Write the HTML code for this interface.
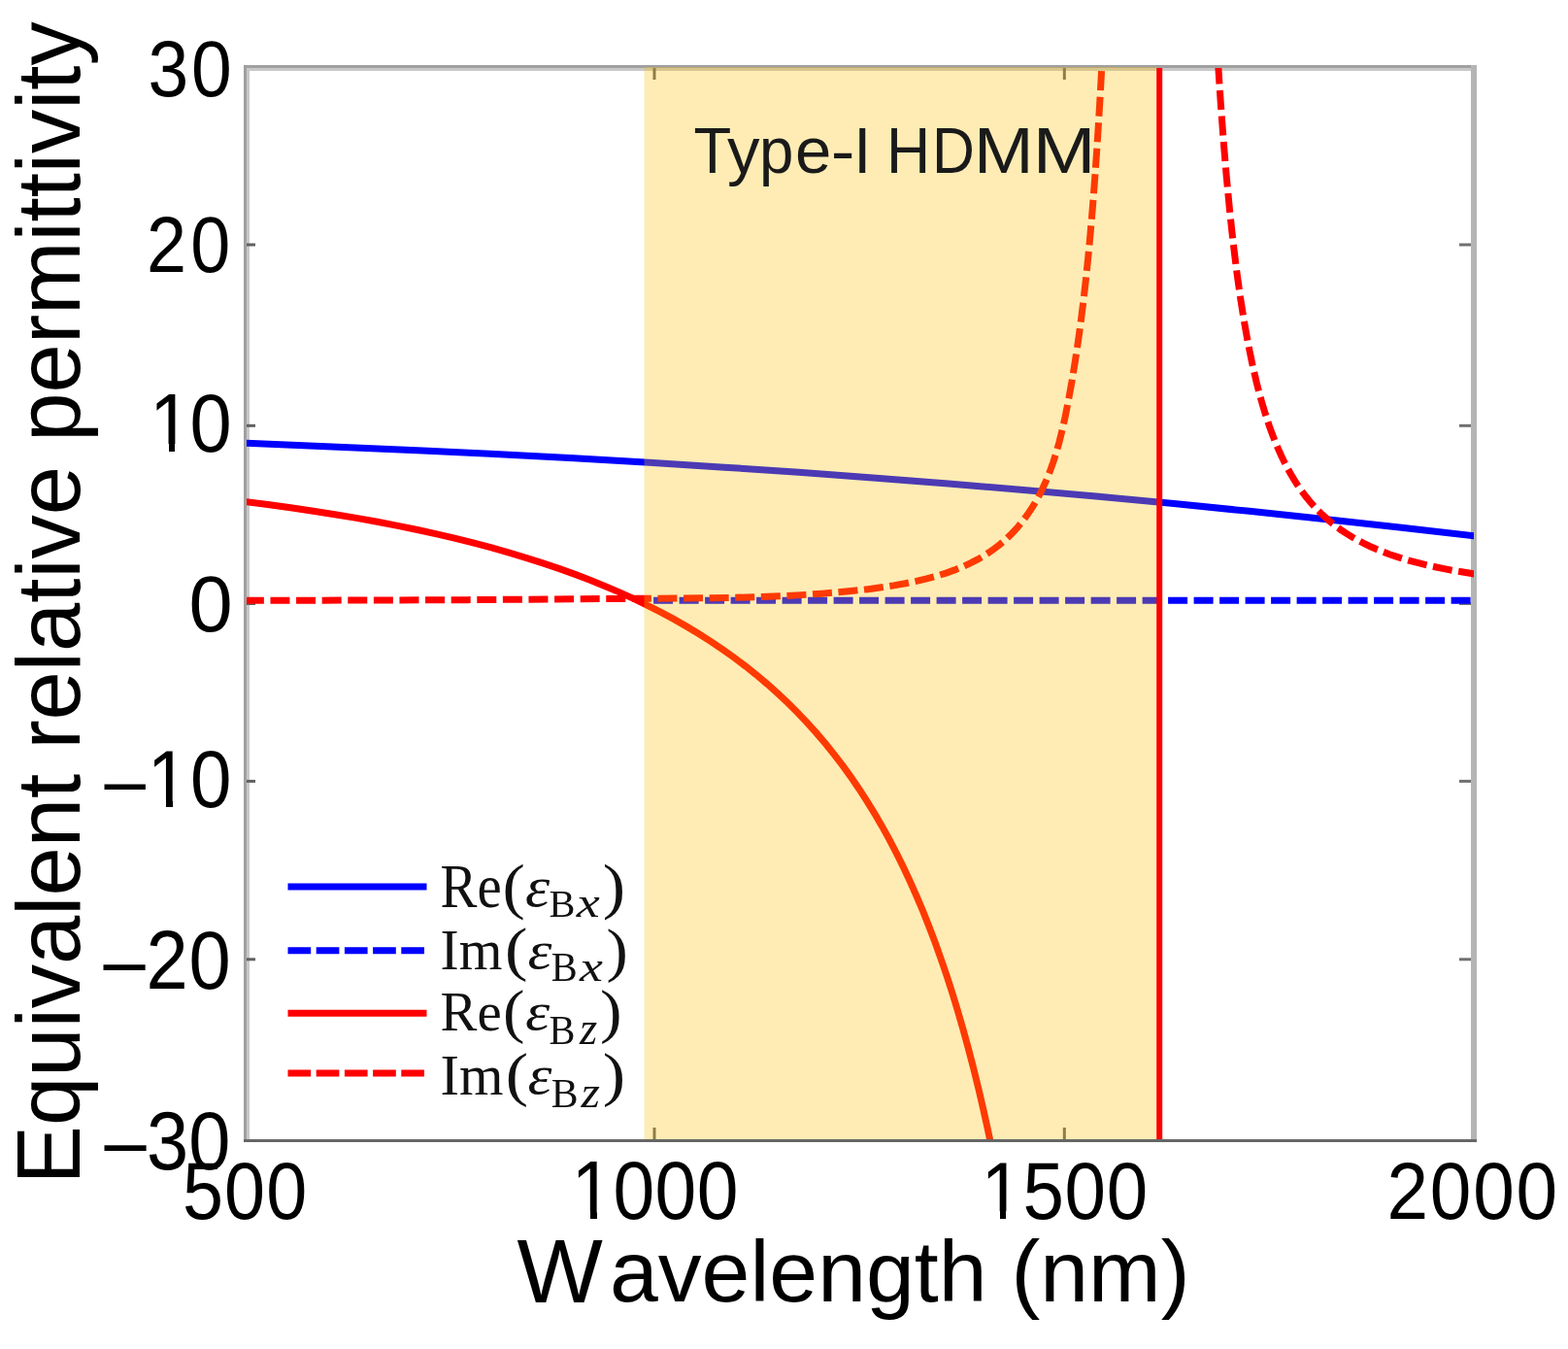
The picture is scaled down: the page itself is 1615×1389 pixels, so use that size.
<!DOCTYPE html>
<html><head><meta charset="utf-8"><style>
html,body{margin:0;padding:0;background:#fff;}
body{width:1615px;height:1389px;overflow:hidden;}
svg{display:block;}
.tk,.al,.hd{font-family:"Liberation Sans",Arial,sans-serif;fill:#000;}
.lg{font-family:"Liberation Serif","Times New Roman",serif;fill:#111;}
.hd{fill:#1a1a1a;}
</style></head><body>
<svg width="1615" height="1389" viewBox="0 0 1615 1389">
<rect width="1615" height="1389" fill="#fff"/>
<!-- axes box -->
<rect x="251" y="67" width="3" height="1109" fill="#a0a0a0"/>
<rect x="254" y="70" width="3" height="1103" fill="#c8c8c8"/>
<rect x="251" y="67" width="1270" height="3" fill="#a0a0a0"/>
<rect x="254" y="70" width="1261" height="3" fill="#c8c8c8"/>
<rect x="1515" y="67" width="6" height="1109" fill="#b4b4b4"/>
<rect x="251" y="1173" width="1270" height="3" fill="#666"/>
<rect x="254" y="250.5" width="9" height="3" fill="#606060"/><rect x="1503" y="250.5" width="12" height="3" fill="#707070"/><rect x="254" y="436.8" width="9" height="3" fill="#606060"/><rect x="1503" y="436.8" width="12" height="3" fill="#707070"/><rect x="254" y="620" width="9" height="3" fill="#606060"/><rect x="1503" y="620" width="12" height="3" fill="#707070"/><rect x="254" y="802.9" width="9" height="3" fill="#606060"/><rect x="1503" y="802.9" width="12" height="3" fill="#707070"/><rect x="254" y="986.3" width="9" height="3" fill="#606060"/><rect x="1503" y="986.3" width="12" height="3" fill="#707070"/><rect x="672.5" y="1161" width="3" height="12" fill="#606060"/><rect x="672.5" y="70" width="3" height="12" fill="#606060"/><rect x="1094.8" y="1161" width="3" height="12" fill="#606060"/><rect x="1094.8" y="70" width="3" height="12" fill="#606060"/>
<defs><clipPath id="pc"><rect x="254" y="70" width="1264" height="1103"/></clipPath></defs>
<g fill="none" stroke-width="7" clip-path="url(#pc)">
<line x1="663" y1="618.3" x2="1518" y2="618.3" stroke="#0000ff" stroke-dasharray="20 6.5" stroke-dashoffset="16.4"/>
<path d="M251.7,456.21 L353.9,460.38 L435.4,463.97 L514.37,467.77 L591.23,471.83 L668.93,476.3 L746.21,481.14 L822.65,486.32 L899.09,491.9 L976.79,497.97 L1054.07,504.42 L1131.77,511.32 L1209.05,518.6 L1286.76,526.33 L1364.04,534.44 L1441.32,542.96 L1518.6,551.89" stroke="#0000ff"/>
<path d="M251.7,516.54 L275.77,519.58 L299.42,522.79 L322.65,526.18 L345.03,529.7 L366.99,533.39 L388.53,537.27 L409.64,541.34 L429.91,545.51 L449.76,549.87 L469.18,554.41 L488.19,559.15 L506.35,563.97 L524.51,569.09 L541.82,574.29 L559.13,579.8 L575.6,585.38 L591.65,591.13 L607.7,597.24 L622.9,603.38 L638.1,609.89 L652.46,616.4 L666.82,623.29 L680.76,630.38 L694.27,637.66 L707.36,645.13 L720.03,652.77 L732.28,660.57 L744.52,668.83 L756.35,677.26 L767.75,685.85 L779.15,694.94 L790.13,704.2 L800.69,713.6 L811.25,723.55 L821.38,733.64 L831.1,743.86 L840.81,754.66 L850.1,765.58 L858.97,776.57 L867.84,788.18 L876.28,799.86 L884.73,812.18 L892.75,824.55 L900.78,837.6 L908.38,850.65 L915.98,864.43 L923.16,878.16 L930.34,892.65 L937.09,907.03 L943.85,922.21 L950.61,938.23 L956.94,954.09 L963.28,970.83 L969.19,987.31 L975.1,1004.68 L981.01,1023.03 L986.5,1041 L991.99,1059.95 L997.48,1079.97 L1002.55,1099.47 L1007.62,1120.03 L1012.68,1141.73 L1017.33,1162.72 L1021.98,1184.84" stroke="#ff0000"/>
<path d="M251.87,618.3 L378.98,618.04 L481.6,617.63 L726.97,615.79 L754.43,615.37 L779.77,614.69 L805.12,613.67 L829.2,612.37 L846.95,611.17 L863.43,609.83 L879.07,608.34 L893.87,606.67 L907.82,604.83 L920.52,602.88 L932.37,600.77 L943.8,598.42 L954.39,595.91 L964.57,593.14 L974.33,590.09 L983.26,586.91 L991.77,583.45 L999.87,579.72 L1007.56,575.7 L1014.84,571.39 L1022.14,566.51 L1029.03,561.29 L1035.52,555.76 L1042.03,549.49 L1047.7,543.36 L1053.38,536.48 L1058.63,529.35 L1063.88,521.36 L1068.67,513.14 L1073,504.83 L1077.26,495.59 L1081.03,486.36 L1084.71,476.15 L1087.9,466.13 L1091,455.1 L1094.04,442.93 L1097.04,429.46 L1100.42,412.5 L1103.88,393.34 L1107.04,374.12 L1110.3,352.52 L1113.21,331.34 L1115.73,311.24 L1118.26,289.09 L1120.79,264.62 L1122.9,242.2 L1125.44,212.55 L1127.55,185.24 L1129.66,155.26 L1131.35,129.1 L1133.46,93.36 L1135.15,62.04" stroke="#ff0000" stroke-dasharray="20 6.6"/>
<path d="M1254.66,66.44 L1257.2,104.91 L1260.15,144.87 L1263.11,180.29 L1266.49,216.05 L1269.87,247.54 L1273.67,278.68 L1277.47,305.98 L1281.27,330.05 L1285.49,353.6 L1289.71,374.32 L1294.36,394.35 L1296.89,404.22 L1299.43,413.44 L1301.96,422.06 L1304.92,431.42 L1307.45,438.91 L1310.41,447.07 L1313.36,454.66 L1316.74,462.72 L1319.7,469.28 L1323.08,476.26 L1326.45,482.74 L1329.83,488.78 L1333.21,494.4 L1337.01,500.28 L1340.81,505.74 L1344.61,510.81 L1348.84,516.04 L1353.06,520.88 L1357.28,525.38 L1361.93,529.95 L1366.57,534.18 L1371.64,538.45 L1376.71,542.38 L1381.77,546.02 L1387.26,549.66 L1392.75,553.02 L1398.67,556.35 L1404.58,559.43 L1410.91,562.47 L1417.25,565.26 L1424,568.01 L1431.18,570.69 L1438.36,573.15 L1445.96,575.55 L1453.99,577.86 L1462.01,579.99 L1470.46,582.04 L1479.33,584.01 L1488.62,585.91 L1498.33,587.71 L1518.6,591.01" stroke="#ff0000" stroke-dasharray="20 6.6"/>
</g>
<!-- band overlay -->
<rect x="663.5" y="69" width="528" height="1104" fill="rgb(252,192,8)" fill-opacity="0.3"/>
<rect x="1191.2" y="70" width="6" height="1103" fill="#ff0000"/>
<text class="hd" y="177.9" font-size="67.5"><tspan x="714.52" textLength="38.74" lengthAdjust="spacingAndGlyphs">T</tspan><tspan x="749.10" textLength="33.44" lengthAdjust="spacingAndGlyphs">y</tspan><tspan x="782.03" textLength="35.37" lengthAdjust="spacingAndGlyphs">p</tspan><tspan x="818.92" textLength="37.31" lengthAdjust="spacingAndGlyphs">e</tspan><tspan x="855.80" textLength="24.73" lengthAdjust="spacingAndGlyphs">-</tspan><tspan x="879.36" textLength="17.96" lengthAdjust="spacingAndGlyphs">I</tspan><tspan> </tspan><tspan x="912.94" textLength="45.19" lengthAdjust="spacingAndGlyphs">H</tspan><tspan x="960.00" textLength="43.88" lengthAdjust="spacingAndGlyphs">D</tspan><tspan x="1003.13" textLength="61.61" lengthAdjust="spacingAndGlyphs">M</tspan><tspan x="1063.79" textLength="64.73" lengthAdjust="spacingAndGlyphs">M</tspan></text>

<line x1="296.5" y1="913" x2="439.5" y2="913" stroke="#0000ff" stroke-width="7"/>
<line x1="296.5" y1="978.7" x2="439.5" y2="978.7" stroke="#0000ff" stroke-width="7" stroke-dasharray="23.7 5.5"/>
<line x1="296.5" y1="1043.2" x2="439.5" y2="1043.2" stroke="#ff0000" stroke-width="7"/>
<line x1="296.5" y1="1105" x2="439.5" y2="1105" stroke="#ff0000" stroke-width="7" stroke-dasharray="23.7 5.5"/>

<text class="lg"><tspan x="453.6" y="934.4" font-size="62.65" textLength="63.07" lengthAdjust="spacingAndGlyphs">Re</tspan><tspan x="517.6" y="934" font-size="63.18" textLength="23.31" lengthAdjust="spacingAndGlyphs">(</tspan><tspan x="541" y="933.4" font-size="59.28" textLength="25.27" lengthAdjust="spacingAndGlyphs" font-style="italic">ε</tspan><tspan x="565.4" y="943.8" font-size="40.22" textLength="26.93" lengthAdjust="spacingAndGlyphs">B</tspan><tspan x="593.8" y="943.8" font-size="44.99" textLength="23.97" lengthAdjust="spacingAndGlyphs" font-style="italic">x</tspan><tspan x="620.8" y="934" font-size="63.18" textLength="23.31" lengthAdjust="spacingAndGlyphs">)</tspan></text><text class="lg"><tspan x="453.6" y="998.4" font-size="58.55" textLength="63.81" lengthAdjust="spacingAndGlyphs">Im</tspan><tspan x="520" y="998.4" font-size="60.92" textLength="23.49" lengthAdjust="spacingAndGlyphs">(</tspan><tspan x="543.4" y="997.4" font-size="55.32" textLength="24.95" lengthAdjust="spacingAndGlyphs" font-style="italic">ε</tspan><tspan x="567.8" y="1010.2" font-size="42.79" textLength="26.94" lengthAdjust="spacingAndGlyphs">B</tspan><tspan x="597" y="1010.2" font-size="45.11" textLength="23.89" lengthAdjust="spacingAndGlyphs" font-style="italic">x</tspan><tspan x="624.6" y="999.4" font-size="62.04" textLength="22.26" lengthAdjust="spacingAndGlyphs">)</tspan></text><text class="lg"><tspan x="453.6" y="1060.8" font-size="57.27" textLength="63.09" lengthAdjust="spacingAndGlyphs">Re</tspan><tspan x="518" y="1062" font-size="62.07" textLength="22.42" lengthAdjust="spacingAndGlyphs">(</tspan><tspan x="541" y="1059.8" font-size="55.95" textLength="25.27" lengthAdjust="spacingAndGlyphs" font-style="italic">ε</tspan><tspan x="565.4" y="1075" font-size="42.79" textLength="26.94" lengthAdjust="spacingAndGlyphs">B</tspan><tspan x="597" y="1075" font-size="49.19" textLength="18.18" lengthAdjust="spacingAndGlyphs" font-style="italic">z</tspan><tspan x="618" y="1062" font-size="62.07" textLength="22.56" lengthAdjust="spacingAndGlyphs">)</tspan></text><text class="lg"><tspan x="453.6" y="1127.4" font-size="58.17" textLength="64.96" lengthAdjust="spacingAndGlyphs">Im</tspan><tspan x="520.8" y="1126.8" font-size="61.15" textLength="23.31" lengthAdjust="spacingAndGlyphs">(</tspan><tspan x="543.4" y="1126.4" font-size="57.22" textLength="24.95" lengthAdjust="spacingAndGlyphs" font-style="italic">ε</tspan><tspan x="567.8" y="1140.2" font-size="43" textLength="27.84" lengthAdjust="spacingAndGlyphs">B</tspan><tspan x="598.6" y="1140.2" font-size="46.89" textLength="19.46" lengthAdjust="spacingAndGlyphs" font-style="italic">z</tspan><tspan x="620.8" y="1126.8" font-size="61.15" textLength="23.31" lengthAdjust="spacingAndGlyphs">)</tspan></text>
<text class="tk" x="152.5" y="98.5" font-size="82.44" transform="matrix(0.91,0,0,1,13.72,0)" textLength="94.7" lengthAdjust="spacing">30</text><text class="tk" x="151" y="280" font-size="81.04" transform="matrix(0.91,0,0,1,13.59,0)" textLength="94.77" lengthAdjust="spacing">20</text><text class="tk" x="154" y="465" font-size="85.27" transform="matrix(0.91,0,0,1,13.86,0)" textLength="93.08" lengthAdjust="spacing">10</text><text class="tk" x="194.4" y="649.8" font-size="82.17" textLength="45.16" lengthAdjust="spacingAndGlyphs">0</text><text class="tk" x="107.5" y="831.5" font-size="83.85" transform="matrix(0.91,0,0,1,9.67,0)" textLength="144.02" lengthAdjust="spacing">–10</text><text class="tk" x="106.5" y="1018" font-size="85.29" transform="matrix(0.91,0,0,1,9.58,0)" textLength="144.22" lengthAdjust="spacing">–20</text><text class="tk" x="107.5" y="1204" font-size="85.27" transform="matrix(0.91,0,0,1,9.67,0)" textLength="142.79" lengthAdjust="spacing">–30</text><text class="tk" x="188" y="1255" font-size="83.01" transform="matrix(0.91,0,0,1,16.92,0)" textLength="140.94" lengthAdjust="spacing">500</text><text class="tk" x="588.5" y="1255" font-size="84.42" transform="matrix(0.91,0,0,1,52.96,0)" textLength="188.93" lengthAdjust="spacing">1000</text><text class="tk" x="1010.5" y="1255" font-size="83.85" transform="matrix(0.91,0,0,1,90.94,0)" textLength="188.61" lengthAdjust="spacing">1500</text><text class="tk" x="1428.5" y="1255" font-size="84.13" transform="matrix(0.91,0,0,1,128.56,0)" textLength="192.93" lengthAdjust="spacing">2000</text>
<rect x="159" y="457" width="15" height="10" fill="#fff"/><rect x="180" y="457" width="14" height="10" fill="#fff"/><rect x="157" y="823" width="14" height="10" fill="#fff"/><rect x="178" y="823" width="13" height="10" fill="#fff"/><rect x="594" y="1247" width="14" height="10" fill="#fff"/><rect x="615" y="1247" width="13" height="10" fill="#fff"/><rect x="1016" y="1247" width="14" height="10" fill="#fff"/><rect x="1036" y="1247" width="14" height="10" fill="#fff"/>
<text class="al"><tspan x="532.6" y="1341.2" font-size="92.42" textLength="88.33" lengthAdjust="spacingAndGlyphs">W</tspan><tspan x="628" y="1340.4" font-size="88.04" textLength="597.57" lengthAdjust="spacingAndGlyphs">avelength (nm)</tspan></text>
<text class="al" transform="translate(-418.5,1419.4) rotate(-90)" x="200" y="500" font-size="92" textLength="1197.14" lengthAdjust="spacingAndGlyphs">Equivalent relative permittivity</text>
</svg>
</body></html>
